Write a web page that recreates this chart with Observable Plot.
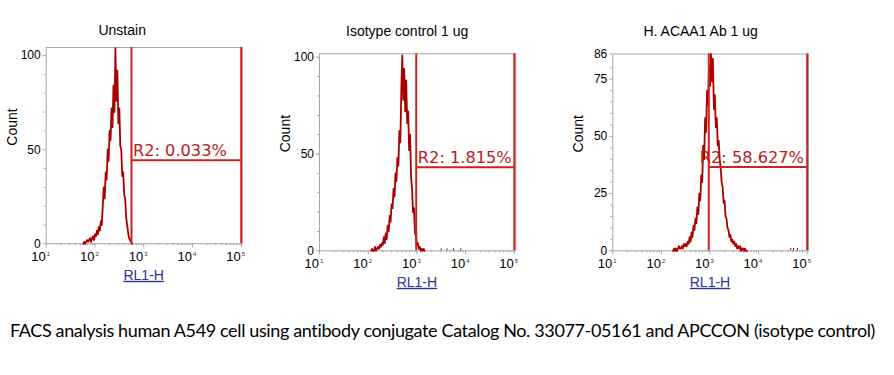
<!DOCTYPE html>
<html><head><meta charset="utf-8">
<script src="https://cdn.jsdelivr.net/npm/d3@7"></script>
<script src="https://cdn.jsdelivr.net/npm/@observablehq/plot@0.6"></script>
<style>
html,body{margin:0;padding:0;background:#fff;}
#root{position:relative;width:894px;height:375px;overflow:hidden;background:#fff;}
.panel{position:absolute;top:0;}
.panel svg{overflow:visible;}
#caption{position:absolute;left:10px;top:318px;white-space:nowrap;font-family:Lato,'Open Sans',sans-serif;font-size:18px;line-height:24px;color:#000;}
</style></head><body><div id="root"></div>
<script>
// ---------- data ----------
const panelTitles = ["Unstain", "Isotype control 1 ug", "H. ACAA1 Ab 1 ug"];
const gateLabels = ["R2: 0.033%", "R2: 1.815%", "R2: 58.627%"];
const gateStart = [561, 968, 944];
const gateEnd = [100000, 100000, 100000];
const gateCount = [44.4, 43.2, 36.6];
const yMax = [104.3, 101.8, 86];
const yTicks = [[0, 50, 100], [0, 50, 100], [0, 25, 50, 75, 86]];
const yMinorTicks = [
  [10, 20, 30, 40, 60, 70, 80, 90],
  [10, 20, 30, 40, 60, 70, 80, 90],
  [5, 10, 15, 20, 30, 35, 40, 45, 55, 60, 65, 70, 80]
];
const xMajorTicks = [10, 100, 1000, 10000, 100000];
const xExponents = ["1", "2", "3", "4", "5"];
const xMinorTicks = [20, 30, 40, 50, 60, 70, 80, 90,
  200, 300, 400, 500, 600, 700, 800, 900,
  2000, 3000, 4000, 5000, 6000, 7000, 8000, 9000,
  20000, 30000, 40000, 50000, 60000, 70000, 80000, 90000];
const xLabel = "RL1-H";
const yLabel = "Count";
const captionText = "FACS analysis human A549 cell using antibody conjugate Catalog No. 33077-05161 and APCCON (isotype control)";

// histogram channels: first log10 channel and channel width (log10 units)
const unstainStart = 1.76, unstainStep = 0.02;
const unstainCounts = [0, 1, 0, 1, 2, 1, 2, 3, 1, 3, 4, 2, 5, 4, 7, 5, 9, 7, 12, 10,
  20, 30, 24, 38, 34, 50, 44, 60, 55, 72, 62, 84, 70, 104, 76, 92, 64, 72, 52, 50,
  36, 38, 26, 24, 14, 10, 6, 3, 2, 1, 0];
const isotypeStart = 2.06, isotypeStep = 0.02;
const isotypeCounts = [0, 1, 0, 0, 2, 0, 1, 2, 1, 3, 2, 4, 3, 7, 4, 9, 6, 13, 10, 18,
  15, 24, 22, 32, 28, 40, 36, 48, 44, 62, 56, 84, 101, 78, 94, 72, 88, 66, 72, 52,
  60, 38, 32, 20, 22, 9, 8, 3, 4, 1, 2, 0, 1, 0, 1, 0];
const isotypeTailLog = [3.5, 3.62, 3.75, 3.9];
const isotypeTailCounts = [1, 1, 1, 1];
const acaa1Start = 2.24, acaa1Step = 0.02;
const acaa1Counts = [0, 1, 0, 1, 0, 1, 2, 1, 1, 2, 1, 3, 2, 3, 2, 4, 3, 6, 4, 8,
  6, 11, 9, 14, 12, 19, 16, 25, 22, 33, 30, 46, 40, 58, 52, 70, 64, 80, 72, 86,
  74, 84, 62, 68, 54, 58, 46, 48, 40, 36, 30, 28, 21, 22, 15, 14, 10, 9, 6, 7,
  4, 5, 3, 4, 2, 3, 1, 2, 1, 2, 0, 1, 1, 0, 1, 0, 0];
const acaa1TailLog = [4.66, 4.72, 4.8];
const acaa1TailCounts = [1, 1, 1];

// ---------- layout / style ----------
const histColor = "#aa0000";
const gateColor = "#cc2222";
const frameColor = "#a6a6a6";
const sans = "'Liberation Sans', Arial, sans-serif";

const panels = [
  {start: unstainStart, step: unstainStep, counts: unstainCounts, tailLog: [], tailCounts: [],
   left: 0, mL: 45.7, mR: 18.3, mT: 47, mB: 46.7, xMaxExp: 5.02,
   titleDx: -22, titleDy: -13, gateDx: 1.5},
  {start: isotypeStart, step: isotypeStep, counts: isotypeCounts, tailLog: isotypeTailLog, tailCounts: isotypeTailCounts,
   left: 270, mL: 49, mR: 14.7, mT: 53.3, mB: 39.7, xMaxExp: 5.03,
   titleDx: -10.5, titleDy: -17.8, gateDx: 1.6},
  {start: acaa1Start, step: acaa1Step, counts: acaa1Counts, tailLog: acaa1TailLog, tailCounts: acaa1TailCounts,
   left: 560, mL: 52.3, mR: 12, mT: 53.5, mB: 39.7, xMaxExp: 5.027,
   titleDx: -10, titleDy: -18, gateDx: -9}
];

const root = document.getElementById("root");

panels.forEach((p, i) => {
  const hist = p.counts.map((c, k) => ({x: Math.pow(10, p.start + k * p.step), y: c}));
  const tail = p.tailLog.map((l, k) => ({x: Math.pow(10, l), y: p.tailCounts[k]}));
  const W = 260, H = 290;
  const svg = Plot.plot({
    width: W, height: H,
    marginLeft: p.mL, marginRight: p.mR, marginTop: p.mT, marginBottom: p.mB,
    x: {type: "log", domain: [10, Math.pow(10, p.xMaxExp)]},
    y: {domain: [0, yMax[i]]},
    style: {fontFamily: sans, fontSize: "12px", background: "transparent", color: "black", overflow: "visible"},
    marks: [
      Plot.frame({stroke: frameColor}),
      // y axis ticks
      Plot.axisY({ticks: yTicks[i], tickSize: 3, tickFormat: () => "", stroke: frameColor, label: null}),
      Plot.axisY({ticks: yMinorTicks[i], tickSize: 2, tickFormat: () => "", stroke: frameColor, label: null}),
      Plot.text(yTicks[i], {y: d => d, text: d => String(d), frameAnchor: "left", textAnchor: "end",
        lineAnchor: "middle", dx: -5.5, fontSize: 12, fill: "black"}),
      // x axis ticks
      Plot.axisX({ticks: xMajorTicks, tickSize: 4, tickFormat: () => "", stroke: frameColor, label: null}),
      Plot.axisX({ticks: xMinorTicks, tickSize: 2, tickFormat: () => "", stroke: frameColor, label: null}),
      Plot.text(xMajorTicks, {x: d => d, text: () => "10", frameAnchor: "bottom", lineAnchor: "bottom",
        textAnchor: "end", dx: -0.5, dy: 17, fontSize: 13, fill: "black"}),
      Plot.text(xMajorTicks, {x: d => d, text: d => xExponents[xMajorTicks.indexOf(d)], frameAnchor: "bottom",
        lineAnchor: "bottom", textAnchor: "start", dx: 0.5, dy: 12, fontSize: 6, fill: "#333"}),
      // histogram
      Plot.line(hist, {x: "x", y: "y", stroke: histColor, strokeWidth: 1.8}),
      Plot.ruleX(tail, {x: "x", y1: 0, y2: "y", stroke: histColor, strokeWidth: 1}),
      // gate
      Plot.ruleX([gateStart[i], gateEnd[i]], {x: d => d, stroke: gateColor, strokeWidth: 2}),
      Plot.ruleY([gateCount[i]], {y: d => d, x1: gateStart[i], x2: gateEnd[i], stroke: gateColor, strokeWidth: 2}),
      Plot.text([gateLabels[i]], {x: [gateStart[i]], y: [gateCount[i]], text: d => d, textAnchor: "start",
        lineAnchor: "bottom", dx: p.gateDx, dy: -4, fill: "#b81c1c", fontSize: 16.2,
        fontFamily: "'DejaVu Sans', Verdana, sans-serif"}),
      // title and axis labels
      Plot.text([panelTitles[i]], {text: d => d, frameAnchor: "top", lineAnchor: "bottom",
        dx: p.titleDx, dy: p.titleDy, fontSize: 14, fill: "black"}),
      Plot.text([xLabel], {x: [1000], text: d => d, frameAnchor: "bottom", lineAnchor: "bottom",
        dy: 36, fontSize: 14, fill: "#2a3590"}),
      Plot.text([yLabel], {text: d => d, frameAnchor: "left", rotate: -90, dx: -34,
        fontSize: 14, fill: "black"})
    ]
  });
  d3.select(svg).selectAll("text").filter(function () { return this.textContent === xLabel; })
    .style("text-decoration", "underline");
  const div = document.createElement("div");
  div.className = "panel";
  div.style.left = p.left + "px";
  div.appendChild(svg);
  root.appendChild(div);
});

// caption below the charts, stretched to the reference width
const cap = document.createElement("div");
cap.id = "caption";
cap.textContent = captionText;
root.appendChild(cap);
const ctx = document.createElement("canvas").getContext("2d");
ctx.font = "18px Lato";
const natural = ctx.measureText(captionText).width;
const targetWidth = 867;
cap.style.letterSpacing = ((targetWidth - natural) / captionText.length) + "px";
</script>
</body></html>
